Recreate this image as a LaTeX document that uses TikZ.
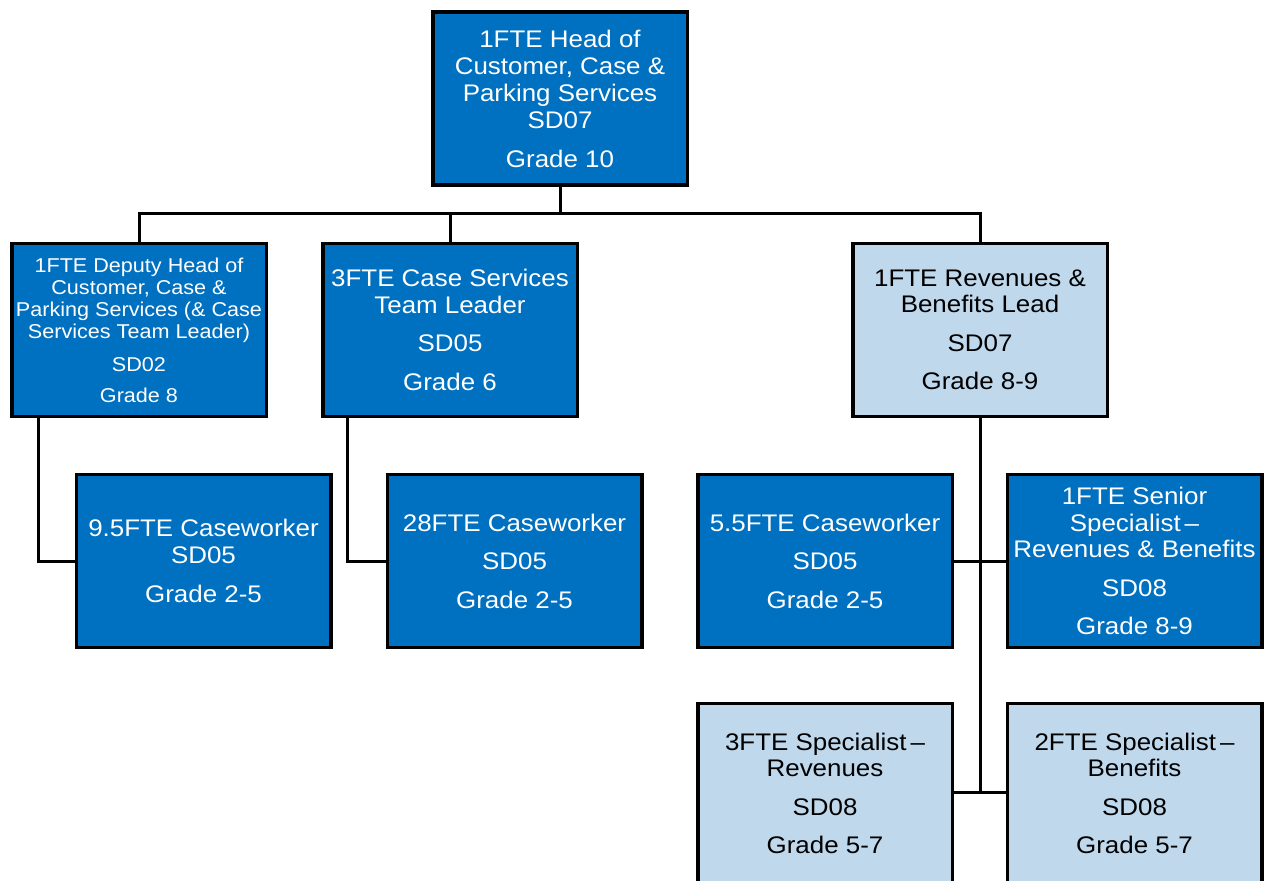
\documentclass[tikz,border=0pt]{standalone}
\usepackage{fontspec}
\setmainfont{Liberation Sans}[FakeStretch=1.08]
\definecolor{roleblue}{HTML}{0070C0}
\definecolor{rolelight}{HTML}{BFD8EC}
\begin{document}
\begin{tikzpicture}[x=1pt,y=-1pt,
  post/.style={draw=black, line width=3.5pt, rectangle, align=center,
    inner sep=0pt, minimum width=254.5pt, minimum height=173pt,
    font=\fontsize{24}{26.5}\selectfont},
  darkpost/.style={post, fill=roleblue, text=white},
  lightpost/.style={post, fill=rolelight, text=black},
  link/.style={draw=black, line width=3pt}]
\useasboundingbox (0,0) rectangle (1265,880);
\begin{scope}
\clip (0,0) rectangle (1265,880);

% head of service
\node[darkpost, font=\fontsize{24}{27}\selectfont] (head) at (560,98.5)
  {1FTE Head of\\Customer, Case \&\\Parking Services\\SD07\\[12pt]Grade 10};

% second tier
\node[darkpost, font=\fontsize{20}{22}\selectfont] (deputy) at (139,330)
  {1FTE Deputy Head of\\Customer, Case \&\\Parking Services (\& Case\\Services Team Leader)\\[11pt]SD02\\[9pt]Grade 8};
\node[darkpost] (teamlead) at (450,330)
  {3FTE Case Services\\Team Leader\\[12pt]SD05\\[12pt]Grade 6};
\node[lightpost] (revlead) at (980,330)
  {1FTE Revenues \&\\Benefits Lead\\[12pt]SD07\\[12pt]Grade 8-9};

% third tier
\node[darkpost] (cw95) at (203.5,561)
  {9.5FTE Caseworker\\SD05\\[13pt]Grade 2-5};
\node[darkpost] (cw28) at (514.5,561)
  {28FTE Caseworker\\[12pt]SD05\\[12pt]Grade 2-5};
\node[darkpost] (cw55) at (825,561)
  {5.5FTE Caseworker\\[12pt]SD05\\[12pt]Grade 2-5};
\node[darkpost] (senior) at (1134.5,561)
  {1FTE Senior\\Specialist\,--\\Revenues \& Benefits\\[12pt]SD08\\[12pt]Grade 8-9};

% specialists (running off the lower edge)
\node[lightpost, minimum height=180pt] (specrev) at (825,793.5)
  {3FTE Specialist\,--\\Revenues\\[12pt]SD08\\[12pt]Grade 5-7};
\node[lightpost, minimum height=180pt] (specben) at (1134.5,793.5)
  {2FTE Specialist\,--\\Benefits\\[12pt]SD08\\[12pt]Grade 5-7};

% reporting lines
\coordinate (bus) at (560,213);
\coordinate (spine) at (980,792);
\draw[link] (head.south) -- (bus);
\draw[link] (deputy.north) |- (bus) -| (revlead.north);
\draw[link] (teamlead.north) -- (teamlead.north |- bus);
\draw[link] ([xshift=28pt]deputy.south west) |- (cw95.west);
\draw[link] ([xshift=26pt]teamlead.south west) |- (cw28.west);
\draw[link] (revlead.south) -- (spine);
\draw[link] (cw55.east) -- (senior.west);
\draw[link] (specrev.east |- spine) -- (specben.west |- spine);
\end{scope}
\end{tikzpicture}
\end{document}
